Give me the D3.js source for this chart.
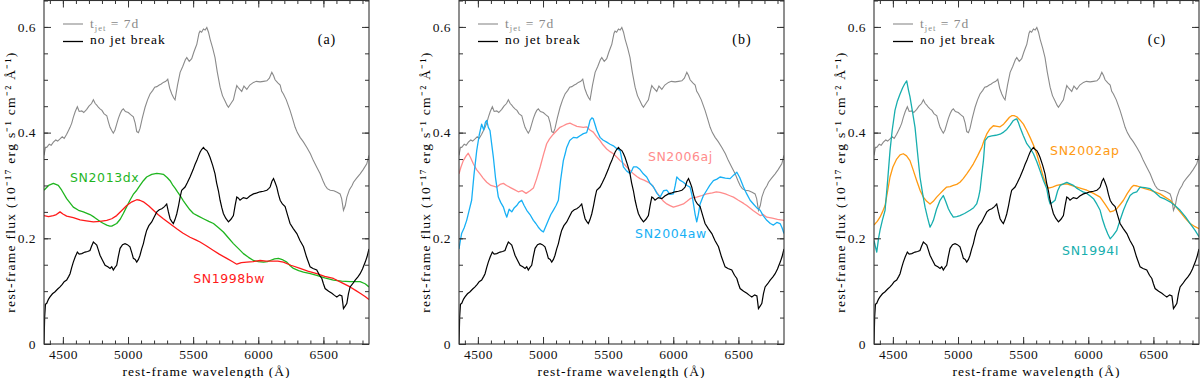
<!DOCTYPE html>
<html><head><meta charset="utf-8">
<script src="https://cdn.jsdelivr.net/npm/d3@7"></script>
<style>
body{margin:0;background:#fff;}
svg{display:block;}
.tick text{font-family:"Liberation Serif",serif;font-size:13.5px;fill:#111;letter-spacing:0.5px;}
</style></head>
<body>
<svg id="chart" width="1200" height="378"></svg>
<script>
// ---------- data ----------
const xTickLabels = [4500, 5000, 5500, 6000, 6500];
const yTickLabels = [0, 0.2, 0.4, 0.6];
const panelTags = ["(a)", "(b)", "(c)"];

// model: t_jet = 7d (grey)
const wlJet7d = [4355,4366,4376,4395,4410,4427,4445,4460,4478,4495,4510,4529,4545,4555,4568,4580,4595,4611,4625,4645,4660,4683,4700,4720,4734,4748,4760,4772,4785,4800,4815,4837,4850,4862,4875,4887,4900,4913,4926,4940,4952,4964,4980,5002,5020,5041,5055,5067,5080,5092,5110,5131,5150,5169,5190,5205,5221,5240,5255,5271,5290,5305,5320,5336,5350,5361,5380,5400,5420,5440,5451,5470,5489,5505,5520,5528,5545,5553,5565,5579,5592,5605,5618,5630,5650,5668,5685,5707,5725,5745,5760,5771,5790,5809,5822,5835,5850,5873,5890,5912,5935,5963,5985,6014,6040,6066,6085,6104,6117,6129,6150,6168,6180,6193,6215,6244,6265,6283,6300,6321,6345,6373,6400,6423,6450,6475,6495,6513,6530,6552,6580,6605,6628,6640,6654,6668,6680,6700,6720,6731,6755,6782,6805,6833,6850];
const fxJet7d = [0.357,0.372,0.372,0.378,0.376,0.382,0.386,0.384,0.388,0.392,0.389,0.397,0.405,0.410,0.418,0.429,0.440,0.449,0.440,0.441,0.438,0.444,0.450,0.455,0.462,0.455,0.452,0.448,0.445,0.442,0.436,0.432,0.420,0.410,0.404,0.399,0.405,0.416,0.427,0.436,0.442,0.445,0.440,0.438,0.434,0.430,0.418,0.402,0.400,0.408,0.428,0.448,0.462,0.473,0.480,0.486,0.487,0.490,0.492,0.495,0.497,0.501,0.484,0.473,0.466,0.462,0.490,0.514,0.525,0.538,0.542,0.535,0.540,0.552,0.562,0.567,0.588,0.592,0.590,0.596,0.594,0.599,0.590,0.577,0.560,0.542,0.515,0.486,0.470,0.460,0.452,0.448,0.455,0.462,0.476,0.489,0.484,0.478,0.488,0.482,0.490,0.495,0.497,0.496,0.497,0.498,0.503,0.514,0.508,0.500,0.494,0.490,0.478,0.473,0.462,0.442,0.425,0.410,0.400,0.391,0.383,0.372,0.360,0.347,0.334,0.322,0.310,0.300,0.294,0.291,0.290,0.287,0.284,0.275,0.253,0.262,0.278,0.292,0.300,0.306,0.314,0.322,0.330,0.341,0.357];

// model: no jet break (black)
const wlNoBreak = [4355,4360,4366,4376,4390,4401,4420,4440,4460,4478,4495,4510,4529,4545,4555,4568,4580,4595,4611,4625,4645,4670,4690,4708,4720,4734,4748,4760,4772,4785,4805,4824,4845,4862,4875,4887,4900,4913,4925,4939,4958,4977,4995,5015,5030,5041,5055,5067,5080,5092,5105,5118,5130,5143,5160,5182,5200,5221,5240,5259,5280,5297,5310,5323,5335,5348,5360,5374,5388,5400,5412,5438,5455,5476,5500,5515,5528,5540,5553,5565,5579,5592,5605,5618,5630,5650,5668,5680,5694,5707,5720,5732,5750,5771,5790,5809,5822,5835,5848,5860,5885,5912,5935,5963,5990,6014,6040,6066,6080,6091,6105,6117,6130,6142,6155,6168,6185,6206,6225,6244,6270,6296,6320,6347,6370,6398,6420,6449,6470,6488,6500,6513,6540,6565,6585,6603,6625,6642,6654,6668,6680,6692,6705,6725,6744,6765,6782,6800,6821,6835,6850];
const fxNoBreak = [0.0,0.05,0.075,0.077,0.085,0.089,0.095,0.099,0.104,0.108,0.113,0.118,0.121,0.128,0.133,0.145,0.155,0.165,0.174,0.170,0.171,0.174,0.175,0.177,0.185,0.193,0.190,0.187,0.178,0.168,0.158,0.149,0.146,0.143,0.146,0.140,0.145,0.149,0.165,0.181,0.188,0.190,0.188,0.184,0.172,0.162,0.160,0.155,0.160,0.168,0.180,0.190,0.203,0.215,0.224,0.231,0.240,0.250,0.254,0.256,0.260,0.265,0.250,0.237,0.232,0.228,0.235,0.246,0.262,0.278,0.291,0.297,0.305,0.316,0.330,0.340,0.347,0.355,0.363,0.368,0.372,0.368,0.366,0.360,0.353,0.338,0.322,0.305,0.290,0.272,0.258,0.247,0.238,0.231,0.236,0.243,0.262,0.278,0.276,0.272,0.277,0.275,0.280,0.284,0.286,0.288,0.289,0.291,0.294,0.297,0.308,0.313,0.305,0.297,0.283,0.272,0.265,0.260,0.244,0.228,0.218,0.209,0.196,0.184,0.165,0.146,0.143,0.140,0.130,0.124,0.114,0.105,0.100,0.096,0.092,0.089,0.093,0.091,0.067,0.072,0.077,0.095,0.108,0.114,0.121,0.127,0.133,0.142,0.155,0.165,0.180];

// SN2013dx (green, panel a)
const wl2013dx = [4355,4390,4427,4465,4491,4529,4580,4620,4657,4708,4740,4773,4805,4837,4860,4875,4913,4940,4964,4990,5015,5040,5067,5092,5118,5143,5182,5221,5250,5271,5300,5323,5345,5361,5380,5400,5425,5451,5475,5502,5540,5579,5620,5656,5695,5732,5770,5809,5850,5886,5925,5963,6000,6040,6070,6091,6125,6155,6190,6219,6245,6270,6310,6347,6400,6449,6510,6577,6640,6705,6782,6820,6850];
const fx2013dx = [0.291,0.300,0.304,0.300,0.291,0.275,0.259,0.253,0.250,0.245,0.240,0.234,0.229,0.225,0.223,0.223,0.228,0.236,0.247,0.260,0.272,0.283,0.291,0.300,0.309,0.316,0.321,0.323,0.322,0.321,0.315,0.309,0.300,0.295,0.288,0.281,0.271,0.262,0.254,0.247,0.242,0.237,0.232,0.228,0.220,0.212,0.201,0.190,0.180,0.171,0.164,0.158,0.156,0.155,0.156,0.158,0.161,0.162,0.159,0.155,0.148,0.143,0.139,0.136,0.133,0.130,0.125,0.121,0.119,0.118,0.118,0.114,0.108];

// SN1998bw (red, panel a)
const wl1998bw = [4355,4390,4427,4450,4478,4500,4529,4580,4632,4680,4734,4785,4837,4875,4913,4950,4990,5030,5067,5090,5118,5160,5195,5230,5271,5320,5374,5420,5476,5520,5553,5600,5656,5700,5758,5800,5835,5870,5912,5960,6014,6060,6117,6150,6193,6250,6321,6380,6449,6510,6577,6640,6705,6750,6782,6820,6850];
const fx1998bw = [0.243,0.241,0.243,0.245,0.250,0.246,0.242,0.239,0.235,0.233,0.231,0.232,0.234,0.237,0.243,0.252,0.262,0.269,0.273,0.272,0.269,0.261,0.253,0.245,0.237,0.228,0.218,0.210,0.202,0.197,0.193,0.186,0.177,0.170,0.162,0.156,0.151,0.154,0.155,0.156,0.158,0.157,0.157,0.157,0.155,0.149,0.143,0.138,0.133,0.128,0.124,0.116,0.108,0.101,0.096,0.090,0.084];

// SN2006aj (salmon, panel b)
const wl2006aj = [4355,4370,4388,4410,4426,4445,4465,4490,4516,4540,4568,4600,4645,4670,4696,4720,4750,4780,4810,4840,4870,4900,4926,4950,4978,5003,5028,5050,5079,5110,5130,5156,5180,5207,5240,5260,5284,5310,5335,5360,5386,5410,5438,5460,5489,5515,5540,5565,5592,5620,5643,5670,5694,5720,5745,5775,5809,5840,5870,5900,5925,5950,5975,6001,6040,6078,6105,6129,6155,6180,6220,6257,6300,6330,6359,6400,6430,6462,6500,6540,6564,6615,6667,6690,6718,6760,6800,6850];
const fx2006aj = [0.322,0.335,0.347,0.356,0.361,0.352,0.341,0.330,0.322,0.314,0.306,0.300,0.297,0.302,0.304,0.300,0.296,0.292,0.288,0.290,0.285,0.290,0.295,0.312,0.335,0.358,0.379,0.388,0.397,0.405,0.410,0.413,0.416,0.418,0.414,0.412,0.411,0.410,0.411,0.405,0.401,0.393,0.385,0.377,0.369,0.364,0.360,0.354,0.347,0.341,0.335,0.328,0.322,0.317,0.313,0.310,0.306,0.300,0.288,0.278,0.270,0.265,0.262,0.259,0.262,0.265,0.270,0.275,0.277,0.278,0.281,0.284,0.286,0.288,0.287,0.284,0.281,0.278,0.272,0.266,0.262,0.252,0.243,0.245,0.240,0.238,0.236,0.234];

// SN2004aw (blue, panel b)
const wl2004aw = [4355,4365,4375,4395,4414,4430,4452,4470,4491,4510,4529,4545,4558,4568,4580,4593,4605,4619,4635,4657,4675,4696,4710,4722,4740,4760,4780,4798,4815,4836,4855,4875,4900,4926,4945,4964,4985,5003,5020,5041,5060,5079,5100,5118,5135,5156,5170,5182,5205,5233,5260,5284,5310,5335,5350,5361,5375,5386,5400,5412,5425,5438,5460,5489,5515,5540,5565,5592,5605,5617,5640,5669,5685,5694,5720,5745,5770,5796,5820,5848,5875,5899,5925,5950,5975,6001,6015,6027,6050,6078,6105,6129,6145,6155,6168,6180,6192,6206,6230,6257,6280,6308,6335,6359,6400,6436,6465,6488,6510,6539,6564,6590,6615,6640,6667,6690,6718,6745,6769,6795,6820,6835,6850];
const fx2004aw = [0.180,0.195,0.209,0.220,0.234,0.250,0.272,0.320,0.366,0.395,0.416,0.405,0.420,0.423,0.410,0.404,0.380,0.353,0.315,0.278,0.268,0.259,0.248,0.240,0.255,0.250,0.258,0.262,0.268,0.272,0.262,0.253,0.245,0.234,0.228,0.221,0.215,0.212,0.222,0.234,0.245,0.253,0.262,0.272,0.310,0.347,0.360,0.372,0.385,0.391,0.390,0.394,0.398,0.400,0.412,0.423,0.428,0.426,0.415,0.405,0.398,0.391,0.386,0.382,0.378,0.375,0.370,0.366,0.350,0.335,0.328,0.322,0.330,0.335,0.335,0.330,0.322,0.316,0.305,0.297,0.285,0.278,0.290,0.291,0.283,0.284,0.300,0.316,0.310,0.306,0.300,0.297,0.280,0.265,0.245,0.231,0.245,0.265,0.280,0.291,0.300,0.309,0.312,0.316,0.314,0.313,0.320,0.325,0.315,0.297,0.284,0.272,0.265,0.258,0.253,0.243,0.234,0.228,0.225,0.230,0.228,0.220,0.209];

// SN2002ap (orange, panel c)
const wl2002ap = [4355,4380,4401,4420,4440,4460,4478,4500,4529,4555,4580,4605,4631,4655,4683,4710,4734,4760,4785,4810,4836,4860,4887,4913,4940,4964,4990,5015,5040,5067,5092,5118,5150,5182,5200,5220,5245,5271,5300,5323,5350,5374,5395,5412,5430,5451,5475,5502,5528,5553,5580,5604,5630,5655,5675,5694,5725,5758,5795,5835,5870,5912,5950,5989,6040,6091,6130,6168,6195,6219,6245,6270,6300,6330,6347,6375,6398,6435,6475,6510,6551,6590,6628,6665,6705,6745,6782,6820,6850];
const fx2002ap = [0.225,0.232,0.240,0.250,0.262,0.290,0.316,0.335,0.350,0.358,0.360,0.356,0.347,0.330,0.309,0.290,0.278,0.270,0.265,0.270,0.278,0.284,0.291,0.297,0.298,0.300,0.302,0.306,0.313,0.322,0.331,0.341,0.356,0.372,0.385,0.397,0.407,0.413,0.412,0.411,0.416,0.423,0.429,0.432,0.432,0.430,0.424,0.416,0.404,0.391,0.376,0.360,0.338,0.316,0.303,0.295,0.297,0.300,0.302,0.303,0.300,0.297,0.294,0.291,0.285,0.278,0.264,0.250,0.252,0.256,0.264,0.272,0.285,0.296,0.300,0.299,0.297,0.294,0.291,0.288,0.284,0.278,0.272,0.262,0.250,0.238,0.228,0.222,0.218];

// SN1994I (teal, panel c)
const wl1994I = [4355,4365,4376,4390,4401,4420,4440,4460,4478,4495,4516,4535,4555,4575,4590,4606,4620,4631,4650,4670,4690,4708,4728,4747,4765,4785,4800,4811,4835,4862,4887,4905,4926,4945,4964,4990,5015,5050,5092,5120,5143,5158,5169,5182,5195,5207,5230,5259,5290,5323,5350,5374,5400,5425,5440,5451,5465,5476,5500,5528,5555,5579,5605,5630,5655,5681,5695,5707,5725,5745,5765,5784,5810,5835,5860,5886,5910,5937,5960,5989,6015,6040,6065,6091,6110,6129,6150,6168,6190,6219,6245,6270,6295,6321,6347,6372,6398,6435,6475,6510,6551,6590,6628,6665,6705,6745,6782,6820,6850];
const fx1994I = [0.196,0.185,0.174,0.200,0.215,0.235,0.253,0.310,0.366,0.405,0.442,0.460,0.473,0.485,0.492,0.498,0.480,0.468,0.440,0.410,0.360,0.316,0.285,0.259,0.240,0.221,0.228,0.234,0.255,0.272,0.281,0.270,0.256,0.247,0.240,0.241,0.243,0.247,0.253,0.258,0.265,0.278,0.291,0.320,0.347,0.385,0.392,0.394,0.395,0.397,0.401,0.406,0.414,0.423,0.425,0.426,0.418,0.410,0.395,0.379,0.370,0.360,0.345,0.328,0.310,0.294,0.275,0.265,0.268,0.272,0.290,0.300,0.303,0.306,0.303,0.300,0.295,0.291,0.288,0.285,0.280,0.275,0.265,0.253,0.235,0.221,0.208,0.199,0.205,0.215,0.235,0.253,0.268,0.281,0.286,0.288,0.297,0.296,0.294,0.287,0.278,0.274,0.269,0.262,0.253,0.241,0.228,0.215,0.203];

// ---------- drawing ----------
const svg = d3.select("#chart");
const FONT = '"Liberation Serif", serif';
const SANS = '"DejaVu Sans", sans-serif';
const plotW = 325, plotTop = 0.5, plotBottom = 344;
const panelLefts = [44, 459, 874];
const grey = "#8a8a8a";

const panels = [
  { extra: [
      {wl: wl2013dx, fx: fx2013dx, color: "#1fb51f", name: "SN2013dx", lab: [4555, 0.306]},
      {wl: wl1998bw, fx: fx1998bw, color: "#ff1a1a", name: "SN1998bw", lab: [5500, 0.115]} ] },
  { extra: [
      {wl: wl2006aj, fx: fx2006aj, color: "#ff8c8c", name: "SN2006aj", lab: [5805, 0.347]},
      {wl: wl2004aw, fx: fx2004aw, color: "#17b0f5", name: "SN2004aw", lab: [5707, 0.2]} ] },
  { extra: [
      {wl: wl2002ap, fx: fx2002ap, color: "#ff9a12", name: "SN2002ap", lab: [5707, 0.357]},
      {wl: wl1994I, fx: fx1994I, color: "#17aeae", name: "SN1994I", lab: [5799, 0.168]} ] }
];

const minorX = d3.range(4400, 6850, 100);
const minorY = d3.range(0, 0.651, 0.05);

panels.forEach((p, i) => {
  const left = panelLefts[i];
  const x = d3.scaleLinear().domain([4355, 6850]).range([left, left + plotW]);
  const y = d3.scaleLinear().domain([0, 0.65]).range([plotBottom, plotTop]);
  const g = svg.append("g");
  const line = (wl, fx) => d3.line().x((d, k) => x(wl[k])).y(d => y(d))(fx);

  const cid = "clip" + i;
  svg.append("clipPath").attr("id", cid).append("rect")
    .attr("x", left).attr("y", plotTop).attr("width", plotW).attr("height", plotBottom - plotTop);
  const cg = g.append("g").attr("clip-path", `url(#${cid})`);

  cg.append("path").attr("d", line(wlJet7d, fxJet7d)).attr("fill", "none")
    .attr("stroke", grey).attr("stroke-width", 1.1);
  p.extra.forEach(s => {
    cg.append("path").attr("d", line(s.wl, s.fx)).attr("fill", "none")
      .attr("stroke", s.color).attr("stroke-width", 1.3).attr("stroke-linejoin", "round");
  });
  cg.append("path").attr("d", line(wlNoBreak, fxNoBreak)).attr("fill", "none")
    .attr("stroke", "#000").attr("stroke-width", 1.2);

  const style = sel => { sel.select(".domain").remove(); sel.selectAll("line").attr("stroke", "#333"); };
  g.append("g").attr("transform", `translate(0,${plotBottom})`)
    .call(d3.axisBottom(x).tickValues(minorX).tickSize(-3.5).tickFormat("")).call(style);
  g.append("g").attr("transform", `translate(0,${plotBottom})`)
    .call(d3.axisBottom(x).tickValues(xTickLabels).tickSize(-7).tickPadding(5).tickFormat(d3.format("d"))).call(style);
  g.append("g").attr("transform", `translate(0,${plotTop})`)
    .call(d3.axisTop(x).tickValues(minorX).tickSize(-3.5).tickFormat("")).call(style);
  g.append("g").attr("transform", `translate(0,${plotTop})`)
    .call(d3.axisTop(x).tickValues(xTickLabels).tickSize(-7).tickFormat("")).call(style);
  g.append("g").attr("transform", `translate(${left},0)`)
    .call(d3.axisLeft(y).tickValues(minorY).tickSize(-4).tickFormat("")).call(style);
  g.append("g").attr("transform", `translate(${left},0)`)
    .call(d3.axisLeft(y).tickValues(yTickLabels).tickSize(-7).tickPadding(8)
      .tickFormat(d => d === 0 ? "0" : d3.format(".1f")(d))).call(style);
  g.append("g").attr("transform", `translate(${left + plotW},0)`)
    .call(d3.axisRight(y).tickValues(minorY).tickSize(-4).tickFormat("")).call(style);
  g.append("g").attr("transform", `translate(${left + plotW},0)`)
    .call(d3.axisRight(y).tickValues(yTickLabels).tickSize(-7).tickFormat("")).call(style);

  g.append("rect").attr("x", left).attr("y", plotTop).attr("width", plotW).attr("height", plotBottom - plotTop)
    .attr("fill", "none").attr("stroke", "#333").attr("stroke-width", 1.1);

  // legend
  g.append("line").attr("x1", left + 19).attr("x2", left + 39).attr("y1", 24).attr("y2", 24)
    .attr("stroke", grey).attr("stroke-width", 1.1);
  const t1 = g.append("text").attr("x", left + 46).attr("y", 28)
    .attr("font-family", FONT).attr("font-size", 13.5).attr("fill", grey).attr("letter-spacing", 1);
  t1.append("tspan").text("t");
  t1.append("tspan").attr("font-size", 8.5).attr("dy", 2.5).text("jet");
  t1.append("tspan").attr("dy", -2.5).text(" = 7d");
  g.append("line").attr("x1", left + 19).attr("x2", left + 39).attr("y1", 41.5).attr("y2", 41.5)
    .attr("stroke", "#000").attr("stroke-width", 1.3);
  g.append("text").attr("x", left + 46).attr("y", 44).attr("font-family", FONT)
    .attr("font-size", 13.5).attr("letter-spacing", 1).attr("fill", "#000").text("no jet break");

  g.append("text").attr("x", left + plotW - 42).attr("y", 44).attr("text-anchor", "middle")
    .attr("font-family", FONT).attr("font-size", 14).attr("letter-spacing", 1).text(panelTags[i]);

  p.extra.forEach(s => {
    g.append("text").attr("x", x(s.lab[0])).attr("y", y(s.lab[1]))
      .attr("font-family", SANS).attr("font-size", 12.5).attr("letter-spacing", 0.6)
      .attr("fill", s.color).text(s.name);
  });

  g.append("text").attr("x", left + plotW / 2).attr("y", 376).attr("text-anchor", "middle")
    .attr("font-family", FONT).attr("font-size", 13.5).attr("letter-spacing", 1)
    .text("rest-frame wavelength (Å)");
  g.append("text").attr("transform", `translate(${left - 29},182) rotate(-90)`).attr("text-anchor", "middle")
    .attr("font-family", FONT).attr("font-size", 13.5).attr("letter-spacing", 1.3)
    .text("rest-frame flux (10⁻¹⁷ erg s⁻¹ cm⁻² Å⁻¹)");
});
</script>
</body></html>
